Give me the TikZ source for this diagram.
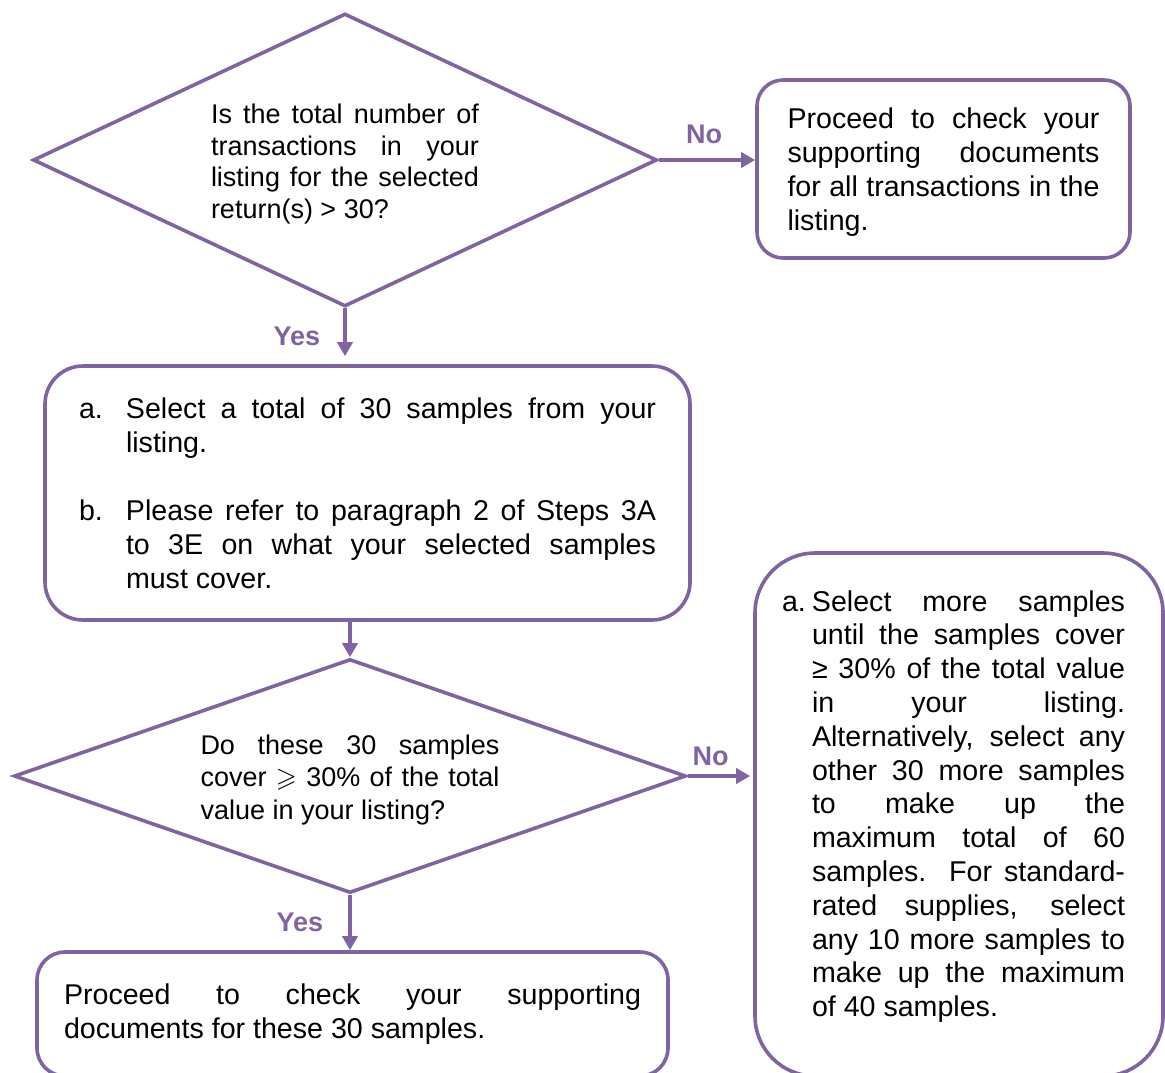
\documentclass[tikz,border=0pt]{standalone}
\usepackage{amssymb}
\usepackage{fontspec}
\setmainfont{Liberation Sans}
\usetikzlibrary{shapes.geometric,arrows.meta}

\definecolor{purp}{RGB}{128,100,162}
\setlength{\parindent}{0pt}
\setlength{\parskip}{0pt}
\tolerance=10000 \hbadness=10000 \hyphenpenalty=10000

% list item with hanging label
\newcommand{\lstitem}[3]{\hangindent=#1\hangafter=1\makebox[#1][l]{#2}#3\par}

\tikzstyle{decision} = [diamond,draw=purp,line width=1.8pt,inner sep=0pt,align=justify,
                        font=\fontsize{13.5}{15.75}\selectfont]
\tikzstyle{step box} = [rectangle,draw=purp,line width=1.8pt,inner sep=0pt,align=justify,
                        font=\fontsize{14.3}{17}\selectfont]
\tikzstyle{edge} = [draw,purp,line width=1.8pt,->,>={Triangle[length=7pt,width=7.5pt]}]
\tikzstyle{answer} = [font=\fontsize{13.5}{16}\selectfont\bfseries,text=purp,inner sep=0pt]

\begin{document}
\begin{tikzpicture}[x=0.5pt,y=-0.5pt]
\path[use as bounding box] (0,0) rectangle (1165,1072);
\clip (0,0) rectangle (1165,1072);

% questions
\node[decision,minimum width=312pt,minimum height=146.5pt,aspect=2.13,text width=134pt]
  (size) at (345,160) {\rule{0pt}{14pt}Is the total number of\linebreak transactions in your\linebreak
  listing for the selected\linebreak return(s) > 30?};
\node[decision,minimum width=336pt,minimum height=117pt,aspect=2.87,text width=149.5pt,
  font=\fontsize{13.5}{16.25}\selectfont]
  (cover) at (350,776) {\leftskip=1.5pt\rightskip=-1.5pt
  \rule{0pt}{13.5pt}Do these 30 samples\linebreak cover $\geqslant$ 30\% of the total\linebreak
  value in your listing?};

% steps
\node[step box,rounded corners=13pt,minimum width=186.5pt,minimum height=89pt,text width=156pt]
  (checkall) at (943.5,169) {\rule{0pt}{13pt}Proceed to check your\linebreak supporting documents\linebreak
  for all transactions in the\linebreak listing.};
\node[step box,rounded corners=19pt,minimum width=322.5pt,minimum height=127pt,text width=288.5pt]
  (pick) at (367.5,493) {\lstitem{23.5pt}{a.}{Select a total of 30 samples from your\linebreak listing.}%
  \vspace{17pt}%
  \lstitem{23.5pt}{b.}{Please refer to paragraph 2 of Steps 3A\linebreak to 3E on what your selected
  samples\linebreak must cover.}};
\node[step box,rounded corners=30pt,minimum width=204pt,minimum height=261.5pt,text width=171.5pt,
  font=\fontsize{14.3}{16.9}\selectfont]
  (more) at (959,814.5) {\leftskip=-2.75pt\rightskip=2.75pt
  \lstitem{15pt}{a.}{Select more samples\linebreak until the samples cover\linebreak
  ≥ 30\% of the total value\linebreak in your listing.\linebreak Alternatively, select any\linebreak
  other 30 more samples\linebreak to make up the\linebreak maximum total of 60\linebreak
  samples. For standard-\linebreak rated supplies, select\linebreak any 10 more samples to\linebreak
  make up the maximum\linebreak of 40 samples.\rule[-11pt]{0pt}{0pt}}};
\node[step box,rounded corners=14pt,minimum width=315.5pt,minimum height=62pt,text width=288.5pt]
  (checkthirty) at (352.5,1014) {Proceed to check your supporting\linebreak documents for these 30 samples.};

% connectors
\path[edge] (size.east) -- node[answer,above=7pt,xshift=-1.5pt] {No} (size.east -| checkall.west);
\path[edge,shorten >=4pt] (size.south) -- node[answer,left=11.5pt] {Yes} (size.south |- pick.north);
\path[edge] (cover.north |- pick.south) -- (cover.north);
\path[edge,shorten >=1.5pt] (cover.east) -- node[answer,above=4pt,xshift=-5pt] {No} (cover.east -| more.west);
\path[edge] (cover.south) -- node[answer,left=12.5pt] {Yes} (cover.south |- checkthirty.north);
\end{tikzpicture}
\end{document}
